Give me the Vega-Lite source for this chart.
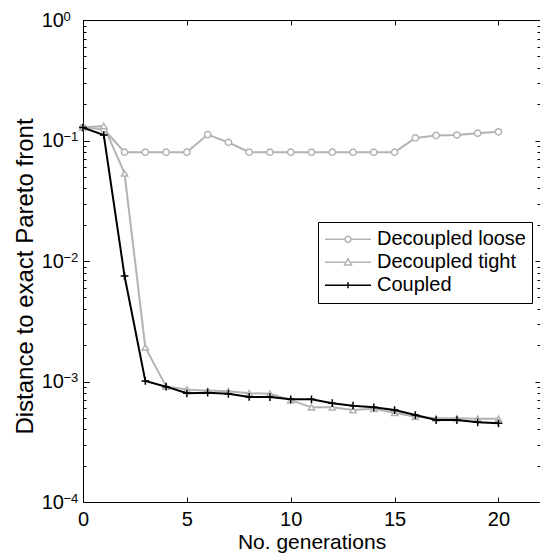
{
  "$schema": "https://vega.github.io/schema/vega-lite/v6.json",
  "width": 457,
  "height": 482,
  "autosize": {"type": "none"},
  "padding": {"left": 83, "top": 20, "right": 0, "bottom": 57},
  "background": "white",
  "config": {
    "font": "Liberation Sans",
    "view": {"stroke": "#000", "strokeWidth": 1},
    "axis": {"domain": false, "grid": false, "tickColor": "#000", "labelColor": "#000", "titleColor": "#000", "labelFont": "Liberation Sans", "titleFont": "Liberation Sans", "titleFontWeight": "normal", "tickWidth": 1, "labelFlush": false, "labelOverlap": false, "labelBound": false}
  },
  "datasets": {
    "d": [
      {"series": "Decoupled loose", "gen": 0, "dist": 0.128},
      {"series": "Decoupled loose", "gen": 1, "dist": 0.124},
      {"series": "Decoupled loose", "gen": 2, "dist": 0.08},
      {"series": "Decoupled loose", "gen": 3, "dist": 0.08},
      {"series": "Decoupled loose", "gen": 4, "dist": 0.08},
      {"series": "Decoupled loose", "gen": 5, "dist": 0.08},
      {"series": "Decoupled loose", "gen": 6, "dist": 0.112},
      {"series": "Decoupled loose", "gen": 7, "dist": 0.0966},
      {"series": "Decoupled loose", "gen": 8, "dist": 0.08},
      {"series": "Decoupled loose", "gen": 9, "dist": 0.08},
      {"series": "Decoupled loose", "gen": 10, "dist": 0.08},
      {"series": "Decoupled loose", "gen": 11, "dist": 0.08},
      {"series": "Decoupled loose", "gen": 12, "dist": 0.08},
      {"series": "Decoupled loose", "gen": 13, "dist": 0.08},
      {"series": "Decoupled loose", "gen": 14, "dist": 0.08},
      {"series": "Decoupled loose", "gen": 15, "dist": 0.08},
      {"series": "Decoupled loose", "gen": 16, "dist": 0.105},
      {"series": "Decoupled loose", "gen": 17, "dist": 0.110},
      {"series": "Decoupled loose", "gen": 18, "dist": 0.111},
      {"series": "Decoupled loose", "gen": 19, "dist": 0.115},
      {"series": "Decoupled loose", "gen": 20, "dist": 0.118},
      {"series": "Decoupled tight", "gen": 0, "dist": 0.129},
      {"series": "Decoupled tight", "gen": 1, "dist": 0.132},
      {"series": "Decoupled tight", "gen": 2, "dist": 0.0534},
      {"series": "Decoupled tight", "gen": 3, "dist": 0.00192},
      {"series": "Decoupled tight", "gen": 4, "dist": 0.00091},
      {"series": "Decoupled tight", "gen": 5, "dist": 0.00086},
      {"series": "Decoupled tight", "gen": 6, "dist": 0.00084},
      {"series": "Decoupled tight", "gen": 7, "dist": 0.00083},
      {"series": "Decoupled tight", "gen": 8, "dist": 0.00080},
      {"series": "Decoupled tight", "gen": 9, "dist": 0.00079},
      {"series": "Decoupled tight", "gen": 10, "dist": 0.00070},
      {"series": "Decoupled tight", "gen": 11, "dist": 0.00061},
      {"series": "Decoupled tight", "gen": 12, "dist": 0.00061},
      {"series": "Decoupled tight", "gen": 13, "dist": 0.00058},
      {"series": "Decoupled tight", "gen": 14, "dist": 0.000595},
      {"series": "Decoupled tight", "gen": 15, "dist": 0.00055},
      {"series": "Decoupled tight", "gen": 16, "dist": 0.00051},
      {"series": "Decoupled tight", "gen": 17, "dist": 0.000495},
      {"series": "Decoupled tight", "gen": 18, "dist": 0.000495},
      {"series": "Decoupled tight", "gen": 19, "dist": 0.00049},
      {"series": "Decoupled tight", "gen": 20, "dist": 0.00049},
      {"series": "Coupled", "gen": 0, "dist": 0.128},
      {"series": "Coupled", "gen": 1, "dist": 0.111},
      {"series": "Coupled", "gen": 2, "dist": 0.0075},
      {"series": "Coupled", "gen": 3, "dist": 0.00101},
      {"series": "Coupled", "gen": 4, "dist": 0.000906},
      {"series": "Coupled", "gen": 5, "dist": 0.000798},
      {"series": "Coupled", "gen": 6, "dist": 0.000807},
      {"series": "Coupled", "gen": 7, "dist": 0.00079},
      {"series": "Coupled", "gen": 8, "dist": 0.000745},
      {"series": "Coupled", "gen": 9, "dist": 0.000743},
      {"series": "Coupled", "gen": 10, "dist": 0.000711},
      {"series": "Coupled", "gen": 11, "dist": 0.000711},
      {"series": "Coupled", "gen": 12, "dist": 0.00066},
      {"series": "Coupled", "gen": 13, "dist": 0.00063},
      {"series": "Coupled", "gen": 14, "dist": 0.00061},
      {"series": "Coupled", "gen": 15, "dist": 0.00058},
      {"series": "Coupled", "gen": 16, "dist": 0.000527},
      {"series": "Coupled", "gen": 17, "dist": 0.000479},
      {"series": "Coupled", "gen": 18, "dist": 0.000479},
      {"series": "Coupled", "gen": 19, "dist": 0.000458},
      {"series": "Coupled", "gen": 20, "dist": 0.00045}
    ]
  },
  "data": {"name": "d"},
  "resolve": {"scale": {"shape": "independent", "stroke": "independent"}, "axis": {"x": "independent", "y": "independent"}},
  "layer": [
    {
      "transform": [{"filter": "datum.series !== 'Coupled'"}],
      "mark": {"type": "line", "color": "#b3b3b3", "strokeWidth": 2},
      "encoding": {
        "x": {"field": "gen", "type": "quantitative", "scale": {"domain": [0, 22], "nice": false, "zero": false},
          "axis": {"orient": "bottom", "values": [0, 5, 10, 15, 20], "tickSize": -5, "labelFontSize": 20, "labelPadding": 12, "title": "No. generations", "titleFontSize": 21, "titleY": 46, "titleBaseline": "alphabetic"}},
        "y": {"field": "dist", "type": "quantitative", "scale": {"type": "log", "domain": [0.0001, 1], "nice": false},
          "axis": {"orient": "left", "values": [0.0001, 0.001, 0.01, 0.1, 1], "tickSize": -6, "labelFontSize": 20, "labelPadding": 25.5, "labelBaseline": "middle", "labelAlign": "right",
            "labelExpr": "'10'",
            "title": "Distance to exact Pareto front", "titleFontSize": 24, "titleX": -51, "titleY": 256, "titleBaseline": "alphabetic", "titleAngle": -90, "titleAlign": "center"}},
        "detail": {"field": "series"}
      }
    },
    {
      "transform": [{"filter": "datum.series !== 'Coupled'"}],
      "mark": {"type": "point", "filled": true, "fill": "white", "stroke": "#b3b3b3", "strokeWidth": 1.5, "size": 40, "opacity": 1},
      "encoding": {
        "x": {"field": "gen", "type": "quantitative",
          "axis": {"orient": "top", "values": [0, 5, 10, 15, 20], "tickSize": -5, "labels": false, "title": null}},
        "y": {"field": "dist", "type": "quantitative",
          "axis": {"orient": "left", "values": [0.0002, 0.0003, 0.0004, 0.0005, 0.0006, 0.0007, 0.0008, 0.0009, 0.002, 0.003, 0.004, 0.005, 0.006, 0.007, 0.008, 0.009, 0.02, 0.03, 0.04, 0.05, 0.06, 0.07, 0.08, 0.09, 0.2, 0.3, 0.4, 0.5, 0.6, 0.7, 0.8, 0.9], "tickSize": -3, "labels": false, "title": null}},
        "shape": {"field": "series", "type": "nominal", "scale": {"domain": ["Decoupled loose", "Decoupled tight"], "range": ["circle", "triangle-up"]}, "legend": null}
      }
    },
    {
      "transform": [{"filter": "datum.series === 'Coupled'"}],
      "mark": {"type": "line", "color": "#000000", "strokeWidth": 2},
      "encoding": {
        "x": {"field": "gen", "type": "quantitative", "axis": null},
        "y": {"field": "dist", "type": "quantitative",
          "axis": {"orient": "left", "values": [0.0001, 0.001, 0.01, 0.1, 1], "tickSize": -6, "labelFontSize": 13, "labelPadding": 26, "labelAlign": "left", "labelBaseline": "alphabetic", "labelDy": -5.5,
            "labelExpr": "['−4','−3','−2','−1','0'][round(log(datum.value)/LN10)+4]", "title": null}}
      }
    },
    {
      "transform": [{"filter": "datum.series === 'Coupled'"}],
      "mark": {"type": "point", "shape": "M-1,0H1M0,-1V1", "filled": false, "stroke": "#000000", "strokeWidth": 1.5, "size": 60, "opacity": 1},
      "encoding": {
        "x": {"field": "gen", "type": "quantitative", "axis": null},
        "y": {"field": "dist", "type": "quantitative",
          "axis": {"orient": "right", "values": [0.0002, 0.0003, 0.0004, 0.0005, 0.0006, 0.0007, 0.0008, 0.0009, 0.002, 0.003, 0.004, 0.005, 0.006, 0.007, 0.008, 0.009, 0.02, 0.03, 0.04, 0.05, 0.06, 0.07, 0.08, 0.09, 0.2, 0.3, 0.4, 0.5, 0.6, 0.7, 0.8, 0.9], "tickSize": -3, "labels": false, "title": null}}
      }
    },
    {
      "mark": {"type": "point", "filled": true, "fill": "white", "opacity": 0, "strokeWidth": 1.5},
      "encoding": {
        "x": {"field": "gen", "type": "quantitative", "axis": null},
        "y": {"field": "dist", "type": "quantitative",
          "axis": {"orient": "right", "values": [0.0001, 0.001, 0.01, 0.1, 1], "tickSize": -5, "labels": false, "title": null}},
        "shape": {"field": "series", "type": "nominal",
          "scale": {"domain": ["Decoupled loose", "Decoupled tight", "Coupled"],
            "range": ["M-1,0H-0.13M0.13,0H1M-0.13,0A0.13,0.13,0,1,0,0.13,0A0.13,0.13,0,1,0,-0.13,0Z", "M-1,0H-0.083M0.083,0H1M-0.15,0.12L0.15,0.12L0,-0.15Z", "M-1,0H1M0,-0.13V0.13"]},
          "legend": {"orient": "none", "legendX": 235, "legendY": 202, "title": null, "symbolSize": 2116, "clipHeight": 22.5, "rowPadding": 0, "labelFontSize": 20, "labelOffset": 5, "padding": 6, "strokeColor": "#000", "fillColor": "#fff", "symbolStrokeWidth": 1.5, "symbolOpacity": 1, "labelColor": "#000", "labelFont": "Liberation Sans"}},
        "stroke": {"field": "series", "type": "nominal",
          "scale": {"domain": ["Decoupled loose", "Decoupled tight", "Coupled"], "range": ["#b3b3b3", "#b3b3b3", "#000000"]},
          "legend": {"orient": "none", "legendX": 235, "legendY": 202, "title": null, "symbolSize": 2116, "clipHeight": 22.5, "rowPadding": 0, "labelFontSize": 20, "labelOffset": 5, "padding": 6, "strokeColor": "#000", "fillColor": "#fff", "symbolStrokeWidth": 1.5, "symbolOpacity": 1, "labelColor": "#000", "labelFont": "Liberation Sans"}}
      }
    }
  ]
}
